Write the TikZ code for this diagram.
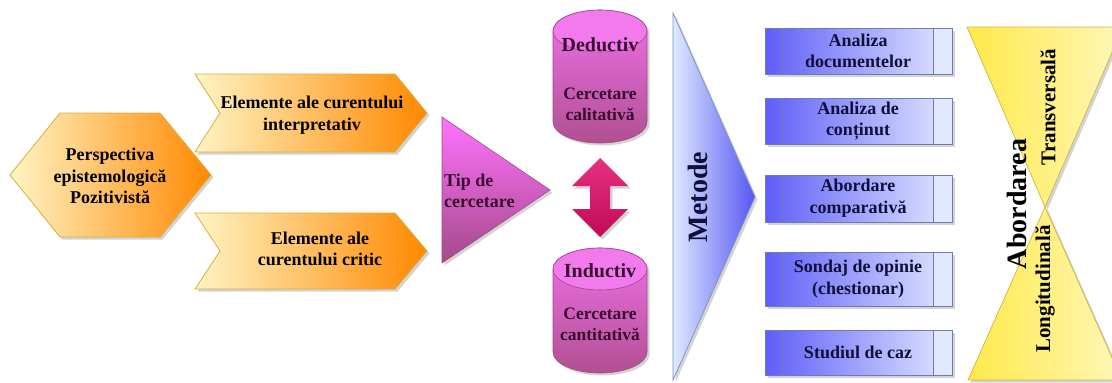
\documentclass[tikz,border=0pt]{standalone}
\usepackage{fontspec}
\setmainfont{Liberation Serif}
\usetikzlibrary{shadows}
\definecolor{olight}{HTML}{FFF4C4}
\definecolor{odark}{HTML}{FF8800}
\definecolor{ogold}{HTML}{D9AE3C}
\definecolor{mtop}{HTML}{FF72FF}
\definecolor{mbot}{HTML}{A44A88}
\definecolor{mline}{HTML}{9A4A88}
\definecolor{mtext}{HTML}{3A0A30}
\definecolor{ctop}{HTML}{F070EA}
\definecolor{cbot}{HTML}{B05090}
\definecolor{cell}{HTML}{F27AEC}
\definecolor{arrtop}{HTML}{E8307F}
\definecolor{arrbot}{HTML}{C00A58}
\definecolor{bdark}{HTML}{5E5EF8}
\definecolor{blight}{HTML}{E2E8FF}
\definecolor{bline}{HTML}{6E7CB4}
\definecolor{btext}{HTML}{10103A}
\definecolor{mleft}{HTML}{DEEAFF}
\definecolor{mright}{HTML}{5656F2}
\definecolor{mborder}{HTML}{7892C4}
\definecolor{yleft}{HTML}{FFE94A}
\definecolor{yright}{HTML}{FFF7B8}
\definecolor{yborder}{HTML}{CDB446}
\begin{document}
\begin{tikzpicture}[x=1pt,y=-1pt,
  txt/.style={font=\fontsize{18}{21.5}\selectfont\bfseries, align=center, inner sep=0pt},
  ctxt/.style={font=\fontsize{17.5}{21}\selectfont\bfseries, align=center, inner sep=0pt},
  shad/.style={drop shadow={opacity=0.35, shadow xshift=2.5pt, shadow yshift=-2.5pt}},
  orangeshape/.style={draw=ogold, line width=0.8pt, left color=olight, right color=odark, shad},
  magshape/.style={draw=mline, line width=0.6pt, top color=mtop, bottom color=mbot, shad},
  cylbody/.style={draw=mline, line width=0.6pt, top color=ctop, bottom color=cbot, shad},
  cyltop/.style={draw=mline, line width=0.6pt, fill=cell},
  bluebox/.style={draw=bline, line width=0.7pt, left color=bdark, right color=blight, shad},
  metshape/.style={draw=mborder, line width=0.7pt, left color=mleft, right color=mright, shad},
  yshape/.style={draw=yborder, line width=0.7pt, left color=yleft, right color=yright, shad},
  dblarrow/.style={top color=arrtop, bottom color=arrbot, shad}]
\useasboundingbox (0,0) rectangle (1112,383);

% left hexagon and chevrons
\path[orangeshape] (10,175) -- (60,113) -- (160,113) -- (211,175) -- (160,237) -- (60,237) -- cycle;
\path[orangeshape] (195,74) -- (395,74) -- (427,113) -- (395,152) -- (195,152) -- (220,113) -- cycle;
\path[orangeshape] (195,213) -- (395,213) -- (427,251) -- (395,289) -- (195,289) -- (220,251) -- cycle;
\node[txt, text=black] (persp) at (110,176) {Perspectiva\\epistemologică\\Pozitivistă};
\node[txt, text=black] (interp) at (312,115) {Elemente ale curentului\\interpretativ};
\node[txt, text=black] (critic) at (320,249) {Elemente ale\\curentului critic};

% Tip de cercetare triangle
\path[magshape] (442,117) -- (550,190) -- (442,263) -- cycle;
\node[txt, text=mtext, align=left, anchor=west] (tip) at (444,191) {Tip de\\cercetare};

% cylinders
\path[cylbody] (553,31) -- (553,122) arc[start angle=180, end angle=0, x radius=47, y radius=21] -- (647,31) arc[start angle=0, end angle=-180, x radius=47, y radius=21] -- cycle;
\path[cyltop] (600,31) ellipse[x radius=47, y radius=21];
\node[ctxt, text=mtext, font=\fontsize{20}{22}\selectfont\bfseries] (ded) at (600,45) {Deductiv};
\node[ctxt, text=mtext] (calit) at (600,104) {Cercetare\\calitativă};

\path[cylbody] (553,269) -- (553,352) arc[start angle=180, end angle=0, x radius=47, y radius=21] -- (647,269) arc[start angle=0, end angle=-180, x radius=47, y radius=21] -- cycle;
\path[cyltop] (600,269) ellipse[x radius=47, y radius=21];
\node[ctxt, text=mtext, font=\fontsize{20}{22}\selectfont\bfseries] (ind) at (600,271) {Inductiv};
\node[ctxt, text=mtext] (cantit) at (600,324) {Cercetare\\cantitativă};

% double arrow
\path[dblarrow] (600,158) -- (628,186) -- (610,186) -- (610,209) -- (628,209) -- (600,237) -- (572,209) -- (590,209) -- (590,186) -- (572,186) -- cycle;

% Metode
\path[metshape] (673,13) -- (755,197) -- (673,380) -- cycle;
\node[txt, text=btext, font=\fontsize{28}{30}\selectfont\bfseries, rotate=90] (met) at (698,197) {Metode};

% method boxes
\foreach \t/\b in {28/74, 98/144, 175/222, 252/306, 330/375}{
  \path[bluebox] (765,\t) rectangle (952,\b);
  \draw[bline, line width=0.6pt] (783,\t) -- (783,\b);
  \fill[blight] (933,\t) rectangle (952,\b);
  \draw[bline, line width=0.7pt] (933,\t) -- (933,\b) (765,\t) rectangle (952,\b);
}
\node[txt, text=btext] (m1) at (858,51) {Analiza\\documentelor};
\node[txt, text=btext] (m2) at (858,121) {Analiza de\\conținut};
\node[txt, text=btext] (m3) at (858,198) {Abordare\\comparativă};
\node[txt, text=btext] (m4) at (858,279) {Sondaj de opinie\\(chestionar)};
\node[txt, text=btext] (m5) at (858,352) {Studiul de caz};

% hourglass
\path[yshape] (967,27) -- (1123,27) -- (1045,207) -- cycle;
\path[yshape] (1045,207) -- (1122,380) -- (968,380) -- cycle;
\node[txt, text=black, font=\fontsize{28}{30}\selectfont\bfseries, rotate=90] (abord) at (1017,204) {Abordarea};
\node[txt, text=black, font=\fontsize{21}{24}\selectfont\bfseries, rotate=90] (trans) at (1048,107) {Transversală};
\node[txt, text=black, font=\fontsize{21}{24}\selectfont\bfseries, rotate=90] (longi) at (1045,289) {Longitudinală};
\end{tikzpicture}
\end{document}
